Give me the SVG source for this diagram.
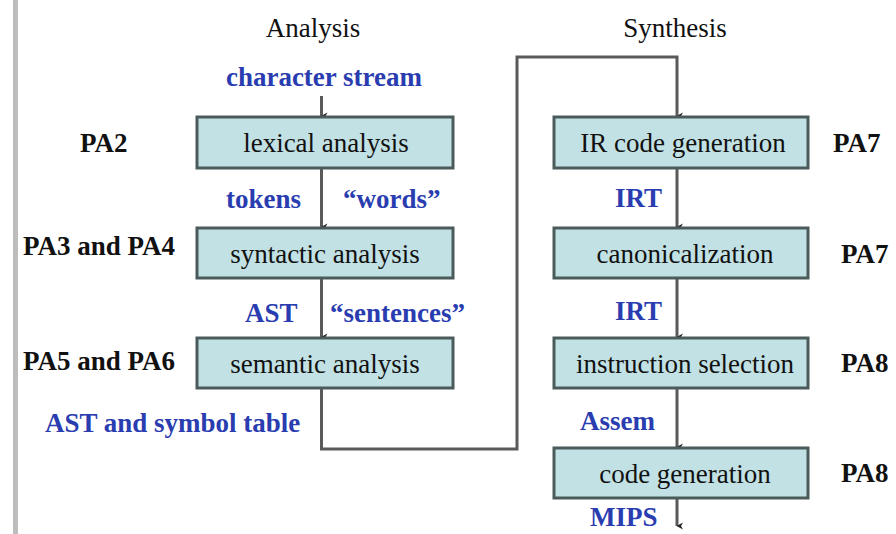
<svg xmlns="http://www.w3.org/2000/svg" width="896" height="534" viewBox="0 0 896 534">
<defs>
<style>
.box{fill:#c2e1e4;stroke:#4b5a5a;stroke-width:3}
.bt{font-family:"Liberation Serif","Times New Roman",serif;font-size:27px;fill:#111;text-anchor:middle}
.tt{font-family:"Liberation Serif","Times New Roman",serif;font-size:27px;fill:#111;text-anchor:middle}
.pa{font-family:"Liberation Serif","Times New Roman",serif;font-size:27px;font-weight:bold;fill:#111}
.bl{font-family:"Liberation Serif","Times New Roman",serif;font-size:27px;font-weight:bold;fill:#2a3db0}
.ln{fill:none;stroke:#5a5a5a;stroke-width:3}
</style>
<marker id="ah" markerWidth="8" markerHeight="8" refX="4" refY="7" orient="auto" markerUnits="userSpaceOnUse" viewBox="0 0 8 8">
<path d="M0.5,1 L4,7.5 L7.5,1 L4,3 Z" fill="#222"/>
</marker>
</defs>
<rect x="0" y="0" width="896" height="534" fill="#fff"/>
<rect x="13" y="0" width="5" height="534" fill="#bdbdbd"/>

<g id="titles">
<text class="tt" x="313" y="37">Analysis</text>
<text class="tt" x="675" y="37">Synthesis</text>
</g>

<g id="connectors">
<line class="ln" x1="321.5" y1="96" x2="321.5" y2="116" marker-end="url(#ah)"/>
<line class="ln" x1="321.5" y1="168" x2="321.5" y2="227" marker-end="url(#ah)"/>
<line class="ln" x1="321.5" y1="278" x2="321.5" y2="337" marker-end="url(#ah)"/>
<polyline class="ln" points="321.5,388 321.5,449 517,449 517,57 677,57 677,116" marker-end="url(#ah)"/>
<line class="ln" x1="677" y1="168" x2="677" y2="227" marker-end="url(#ah)"/>
<line class="ln" x1="677" y1="278" x2="677" y2="337" marker-end="url(#ah)"/>
<line class="ln" x1="677" y1="388" x2="677" y2="447" marker-end="url(#ah)"/>
<line class="ln" x1="677" y1="498" x2="677" y2="526" marker-end="url(#ah)"/>
</g>

<g id="lexical">
<rect class="box" x="197" y="117" width="256" height="51"/>
<text class="bt" x="326" y="152">lexical analysis</text>
</g>
<g id="syntactic">
<rect class="box" x="197" y="228" width="256" height="50"/>
<text class="bt" x="325" y="263">syntactic analysis</text>
</g>
<g id="semantic">
<rect class="box" x="197" y="338" width="256" height="50"/>
<text class="bt" x="325" y="373">semantic analysis</text>
</g>
<g id="irgen">
<rect class="box" x="554" y="117" width="254" height="51"/>
<text class="bt" x="683" y="152">IR code generation</text>
</g>
<g id="canon">
<rect class="box" x="554" y="228" width="254" height="50"/>
<text class="bt" x="685" y="263">canonicalization</text>
</g>
<g id="isel">
<rect class="box" x="554" y="338" width="254" height="50"/>
<text class="bt" x="685" y="373">instruction selection</text>
</g>
<g id="codegen">
<rect class="box" x="554" y="448" width="254" height="50"/>
<text class="bt" x="685" y="483">code generation</text>
</g>

<g id="labels">
<text class="bl" x="324" y="86" text-anchor="middle">character stream</text>
<text class="pa" x="80" y="152">PA2</text>
<text class="bl" x="226" y="208">tokens</text>
<text class="bl" x="343" y="208">“words”</text>
<text class="pa" x="23" y="255">PA3 and PA4</text>
<text class="bl" x="245" y="322">AST</text>
<text class="bl" x="330" y="322">“sentences”</text>
<text class="pa" x="23" y="370">PA5 and PA6</text>
<text class="bl" x="45" y="432">AST and symbol table</text>
<text class="pa" x="833" y="152">PA7</text>
<text class="bl" x="615" y="207">IRT</text>
<text class="pa" x="841" y="263">PA7</text>
<text class="bl" x="615" y="320">IRT</text>
<text class="pa" x="841" y="372">PA8</text>
<text class="bl" x="580" y="430">Assem</text>
<text class="pa" x="841" y="482">PA8</text>
<text class="bl" x="590" y="526">MIPS</text>
</g>
</svg>
